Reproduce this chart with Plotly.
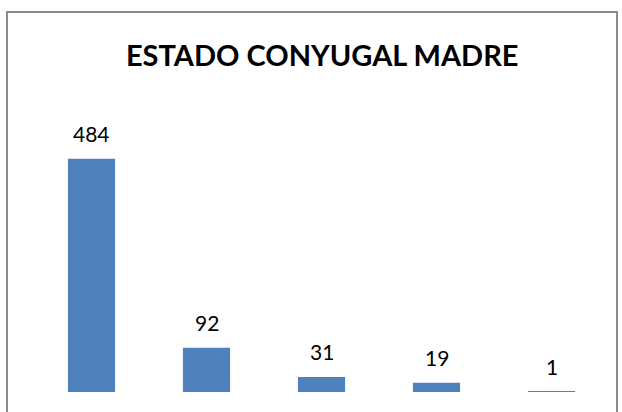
import plotly.graph_objects as go

categories = ["Casada", "Unión libre", "Soltera", "Separada", "Viuda"]
values = [484, 92, 31, 19, 1]
labels = [str(v) for v in values]

L, R, T, B = 34, 13, 103, 20
W, H = 622, 412
pw, ph = W - L - R, H - T - B

def px(x):
    return (x - L) / pw

def py(y):
    return (H - B - y) / ph

fig = go.Figure(go.Bar(x=categories, y=values, marker_color="#4F81BD",
                       marker_line_width=0, width=0.41, hoverinfo="skip"))

for c, v, t in zip(categories, values, labels):
    fig.add_annotation(x=c, y=v, text=t, showarrow=False, yanchor="bottom",
                       yshift=11, font=dict(family="Lato, sans-serif", size=21, color="#000"))

fig.add_shape(type="path", xref="paper", yref="paper",
              path=f"M {px(7)} {py(430)} L {px(7)} {py(12)} L {px(617)} {py(12)} L {px(617)} {py(430)}",
              line=dict(color="#8c8c8c", width=2))

fig.update_layout(
    width=W, height=H,
    margin=dict(l=L, r=R, t=T, b=B),
    paper_bgcolor="white", plot_bgcolor="white",
    showlegend=False,
    title=dict(text="<b>ESTADO CONYUGAL MADRE</b>", x=0.518, xanchor="center",
               y=1 - 56 / H, yanchor="middle",
               font=dict(family="Lato, sans-serif", size=29, color="#000")),
    xaxis=dict(visible=False, range=[-0.5, 4.5]),
    yaxis=dict(visible=False, range=[0, 600]),
)

fig.write_html("out.html", config={"displayModeBar": False},
               post_script="document.body.style.margin='0';document.body.style.padding='0';")
